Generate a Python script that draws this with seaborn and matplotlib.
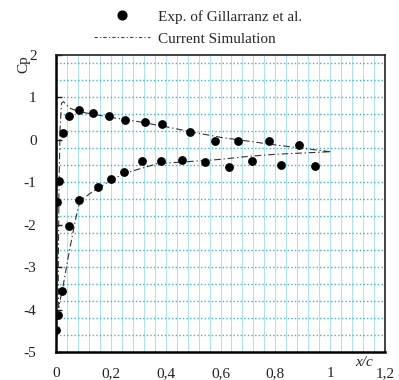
import numpy as np
import pandas as pd
import matplotlib
matplotlib.use("Agg")
import matplotlib.pyplot as plt
import seaborn as sns
from matplotlib.lines import Line2D

# Experimental pressure coefficients (Gillarranz et al.)
exp_x = [0.024, 0.049, 0.083, 0.136, 0.195, 0.253, 0.324, 0.387, 0.487,
         0.579, 0.662, 0.778, 0.887,
         0.002, 0.012, 0.083, 0.153, 0.200, 0.248, 0.314, 0.384, 0.461,
         0.544, 0.630, 0.715, 0.822, 0.943,
         0.049, 0.022, 0.008, 0.001]
exp_cp = [0.17, 0.57, 0.70, 0.63, 0.56, 0.47, 0.41, 0.37, 0.18,
          -0.03, -0.03, -0.03, -0.12,
          -1.46, -0.98, -1.41, -1.12, -0.93, -0.75, -0.51, -0.51, -0.48,
          -0.53, -0.64, -0.50, -0.59, -0.61,
          -2.04, -3.56, -4.13, -4.49]

# Simulated Cp traced around the section (trailing edge -> upper -> leading edge -> lower -> trailing edge)
sim_x = [1.00, 0.90, 0.80, 0.70, 0.60, 0.50, 0.40, 0.30, 0.20, 0.13, 0.08, 0.05,
         0.027, 0.020, 0.015, 0.011, 0.009, 0.008, 0.010,
         0.016, 0.027, 0.042, 0.057, 0.072, 0.085, 0.10, 0.125, 0.20, 0.25,
         0.37, 0.49, 0.60, 0.70, 0.80, 0.90, 1.00]
sim_cp = [-0.28, -0.20, -0.12, -0.03, 0.06, 0.18, 0.31, 0.43, 0.53, 0.61, 0.67, 0.75,
          0.90, 0.86, 0.30, -1.00, -2.50, -3.60, -3.95,
          -3.75, -3.40, -2.85, -2.34, -1.85, -1.50, -1.38, -1.26, -0.95, -0.79,
          -0.56, -0.51, -0.46, -0.39, -0.34, -0.31, -0.28]

x_ticks = [0, 0.2, 0.4, 0.6, 0.8, 1.0, 1.2]
x_tick_labels = ["0", "0,2", "0,4", "0,6", "0,8", "1", "1,2"]
y_ticks = [-5, -4, -3, -2, -1, 0, 1, 2]
y_tick_labels = ["-5", "-4", "-3", "-2", "-1", "0", "1", "2"]

sns.set_theme(style="white")
plt.rcParams["font.family"] = ["Liberation Serif", "DejaVu Serif"]
plt.rcParams["font.size"] = 11

fig = plt.figure(figsize=(3.99, 3.80), dpi=100)
ax = fig.add_axes([0.1404, 0.0737, 0.8246, 0.7816])

# grid: light solid verticals, dotted horizontals
for gx in np.arange(0.04, 1.2, 0.04):
    ax.axvline(gx, color="#b0e0f5", lw=0.75, zorder=0)
for gy in np.arange(-4.6, 2.0, 0.4):
    ax.axhline(gy, color="#38b0e4", lw=1.0, ls=(0, (1, 1.6)), zorder=0)

df_sim = pd.DataFrame({"x": sim_x, "cp": sim_cp})
sns.lineplot(data=df_sim, x="x", y="cp", sort=False, estimator=None, ax=ax,
             color="#333333", lw=0.8, linestyle=(0, (6, 2.5, 1.2, 2.5)), zorder=2)

df_exp = pd.DataFrame({"x": exp_x, "cp": exp_cp})
sns.scatterplot(data=df_exp, x="x", y="cp", ax=ax, color="black", s=40,
                edgecolor="black", linewidth=0, zorder=3)

ax.set_xlim(0, 1.2)
ax.set_ylim(-5, 2)
ax.set_xticks(x_ticks)
ax.set_xticklabels(x_tick_labels)
ax.set_yticks(y_ticks)
ax.set_yticklabels(y_tick_labels)
ax.tick_params(axis="x", length=0, pad=11, labelsize=11, colors="#222222")
ax.tick_params(axis="y", direction="in", length=4, width=1, pad=14,
               labelsize=11, colors="#222222", left=True)

for side in ["left", "bottom"]:
    ax.spines[side].set_linewidth(1.8)
    ax.spines[side].set_color("black")
for side in ["top", "right"]:
    ax.spines[side].set_linewidth(1.2)
    ax.spines[side].set_color("#222222")

ax.set_xlabel("")
ax.set_ylabel("Cp", fontsize=11, color="#222222")
ax.yaxis.set_label_coords(-0.079, 0.97)
ax.text(0.9635, -0.037, "x/c", transform=ax.transAxes, fontsize=11,
        style="italic", ha="right", va="center", color="#222222")

handles = [
    Line2D([], [], marker="o", color="black", ls="none", markersize=6.3),
    Line2D([], [], color="#444444", lw=0.8, ls=(0, (3, 2, 1, 2))),
]
fig.legend(handles, ["Exp. of Gillarranz et al.", "Current Simulation"],
           loc="upper left", bbox_to_anchor=(0.2, 1.01), frameon=False,
           fontsize=11, handlelength=3.7, handletextpad=0.55,
           labelspacing=0.55)

fig.savefig("out.png", dpi=100)
